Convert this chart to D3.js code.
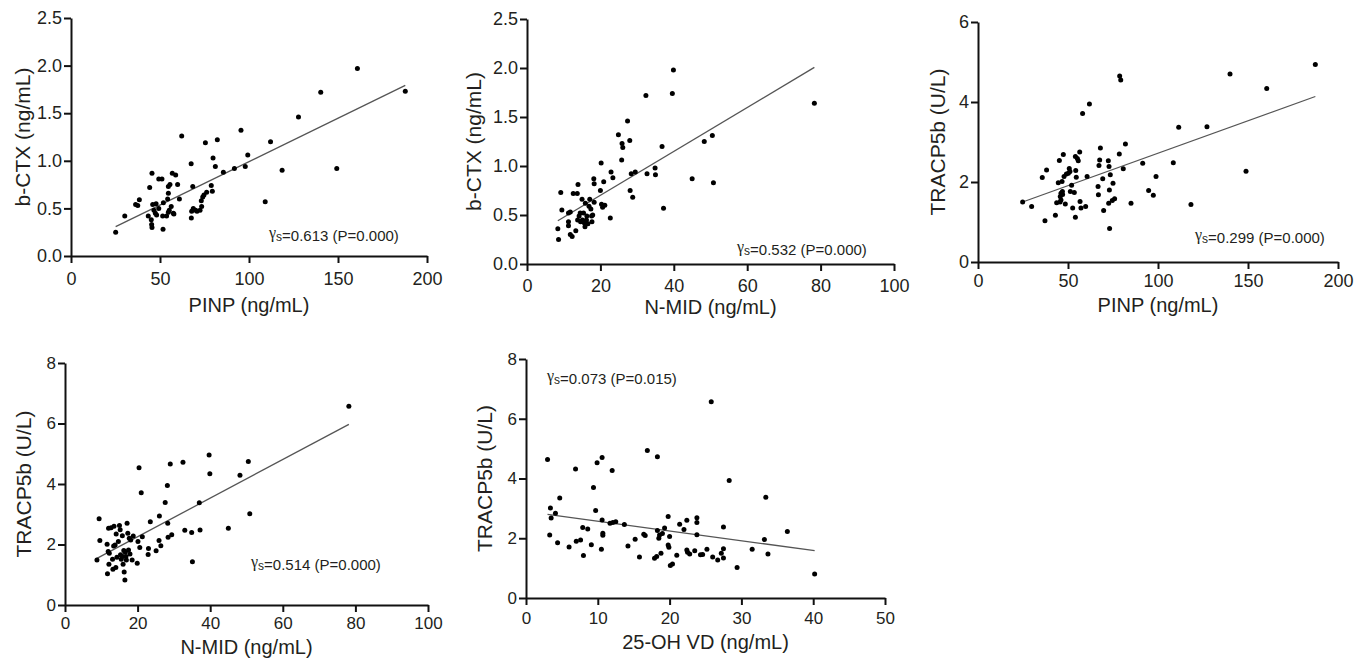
<!DOCTYPE html>
<html>
<head>
<meta charset="utf-8">
<script src="https://cdn.jsdelivr.net/npm/d3@7"></script>
<style>
  body { margin: 0; background: #fff; }
  svg text { font-family: "Liberation Sans", Arial, Helvetica, sans-serif; fill: #231f20; }
</style>
</head>
<body>
<div id="plot"></div>
<script>
// panel 1: PINP vs b-CTX
let p1x = [25.1,30.2,36.3,37.5,38.4,43.4,44.2,45.1,45.3,45.5,45.5,45.9,46.6,47.4,47.8,48.1,49.3,49.3,51.1,51.5,51.7,51.9,53.7,54.3,54.7,54.7,54.7,55.2,55.6,56.3,56.9,57.5,57.8,58.8,59.9,60.9,62.2,67.5,67.6,67.8,68.4,68.7,70.0,70.8,72.5,73.4,73.2,74.0,74.7,75.5,76.2,78.8,79.4,79.8,81.1,82.2,85.6,91.8,95.5,97.9,99.3,109.1,112.1,118.6,127.8,140.3,149.3,160.9,187.8];
let p1y = [0.25,0.42,0.54,0.53,0.59,0.42,0.72,0.38,0.33,0.30,0.87,0.54,0.48,0.45,0.55,0.43,0.50,0.81,0.81,0.42,0.28,0.56,0.42,0.60,0.46,0.66,0.73,0.48,0.75,0.52,0.87,0.45,0.44,0.85,0.75,0.60,1.26,0.97,0.40,0.47,0.73,0.50,0.48,0.47,0.48,0.52,0.58,0.62,0.64,1.19,0.67,0.74,0.68,1.03,0.94,1.22,0.88,0.92,1.32,0.94,1.06,0.57,1.20,0.90,1.46,1.72,0.92,1.97,1.73];

// panel 2: N-MID vs b-CTX
let p2x = [8.6,8.4,9.2,9.5,11.3,11.3,11.3,11.8,12.3,11.8,12.6,13.3,13.7,13.9,13.8,14.2,14.5,14.6,15.0,15.1,15.4,15.6,15.8,15.9,16.2,16.3,16.6,16.9,17.1,17.4,17.6,17.7,17.9,18.2,18.3,18.3,20.0,20.2,20.3,20.6,20.9,21.2,22.7,22.9,23.4,24.9,25.8,25.9,26.1,27.4,28.0,28.1,28.4,28.8,29.5,32.4,32.7,34.9,35.0,36.8,37.2,39.6,39.9,45.0,48.3,50.5,50.8,78.3];
let p2y = [0.25,0.36,0.73,0.55,0.52,0.43,0.39,0.30,0.28,0.53,0.72,0.34,0.72,0.81,0.45,0.49,0.52,0.43,0.66,0.45,0.52,0.42,0.38,0.62,0.45,0.49,0.41,0.59,0.66,0.56,0.49,0.43,0.50,0.87,0.63,0.82,0.75,1.03,0.61,0.58,0.84,0.60,0.47,0.94,0.88,1.32,1.06,1.23,1.19,1.46,1.26,0.75,0.92,0.68,0.94,1.72,0.92,0.98,0.91,1.20,0.57,1.74,1.98,0.87,1.25,1.31,0.83,1.64];

// panel 3: PINP vs TRACP5b
let p3x = [24.8,29.8,35.7,37.2,38.1,43.0,43.7,44.6,45.2,45.6,46.1,45.7,46.1,46.7,46.9,47.0,47.4,47.8,48.5,49.1,50.2,50.7,51.1,51.3,52.0,52.6,53.5,54.1,54.1,54.3,54.6,55.2,55.7,56.5,56.7,57.2,58.1,59.8,60.6,61.9,66.7,66.9,67.2,67.6,68.0,69.3,69.8,72.4,72.6,72.8,73.0,73.1,73.5,74.6,75.0,75.9,78.5,78.7,79.3,80.7,81.9,85.0,91.5,94.8,97.4,98.9,108.5,111.5,118.3,127.2,140.0,148.9,160.4,187.4];
let p3y = [1.50,1.39,2.11,1.03,2.30,1.17,1.48,1.98,2.54,1.50,1.72,1.64,1.55,2.01,1.76,1.69,2.69,2.14,1.45,2.20,2.22,2.34,2.26,1.76,1.92,1.35,1.74,1.12,2.64,2.29,2.12,2.59,2.53,2.75,1.51,1.35,3.71,1.39,2.14,3.95,1.89,1.68,2.41,2.55,2.85,2.08,1.29,2.53,1.47,2.39,1.80,0.84,2.18,1.54,1.97,1.58,2.70,4.65,4.55,2.33,2.95,1.47,2.47,1.79,1.67,2.14,2.48,3.37,1.44,3.38,4.70,2.27,4.34,4.94];

// panel 4: N-MID vs TRACP5b
let p4x = [8.8,9.4,9.6,11.6,11.7,12.0,11.9,12.1,12.2,12.7,13.1,13.2,13.5,13.4,13.8,14.1,14.0,14.3,14.7,15.0,15.2,15.3,15.5,15.8,15.9,16.0,16.2,16.3,16.5,16.6,16.8,16.9,17.1,17.3,17.5,17.7,17.9,18.1,18.5,18.8,19.9,20.1,20.4,20.6,21.0,21.3,22.9,23.0,23.5,25.1,26.0,25.9,26.4,27.6,28.2,28.3,28.4,29.0,29.4,32.5,33.0,34.9,35.1,37.0,37.2,39.7,39.9,45.0,48.2,50.5,50.9,78.2];
let p4y = [1.49,2.85,2.13,2.01,1.03,2.54,1.77,1.35,1.71,2.55,1.51,1.18,2.60,1.95,1.98,2.35,1.24,1.58,2.10,2.63,2.49,1.66,1.51,2.29,1.60,1.35,1.80,1.09,0.83,1.74,1.60,1.49,2.70,2.37,1.82,2.21,1.69,2.15,1.49,2.28,1.38,2.10,4.54,1.90,3.71,2.26,1.67,1.87,2.75,1.79,2.94,2.13,1.96,3.39,3.95,2.70,2.24,4.66,2.32,4.72,2.47,2.40,1.43,3.38,2.48,4.96,4.34,2.54,4.29,4.74,3.02,6.57];

// panel 5: 25-OH VD vs TRACP5b
let p5x = [3.0,3.3,3.4,3.5,4.1,4.4,4.7,6.0,6.9,7.0,7.6,7.9,8.0,8.6,9.1,9.4,9.7,9.9,10.5,10.6,10.6,10.7,10.7,12.0,11.7,12.1,12.5,13.7,14.2,15.2,15.8,16.4,16.6,16.9,17.9,18.2,18.3,18.3,18.5,18.6,18.8,19.0,19.3,19.8,19.8,19.9,20.0,20.1,20.4,21.0,21.4,22.0,22.4,22.4,22.5,22.8,23.5,23.8,23.8,23.8,24.3,24.6,25.2,25.8,26.0,26.7,27.2,27.5,27.5,27.5,28.3,29.4,31.5,33.2,33.4,33.7,36.4,40.2];
let p5y = [4.64,2.11,3.01,2.68,2.84,1.85,3.35,1.71,4.32,1.90,1.94,2.36,1.42,2.31,1.78,3.70,2.93,4.53,1.63,4.70,2.61,2.17,2.10,4.27,2.50,2.53,2.55,2.46,1.74,1.97,1.37,2.13,2.09,4.94,1.33,1.39,4.73,2.26,2.00,2.11,1.50,2.16,2.34,2.73,1.77,1.70,2.06,1.09,1.14,1.43,2.47,2.29,2.60,1.61,1.53,1.47,1.58,2.69,2.53,2.12,1.45,1.46,1.63,6.57,1.37,1.27,1.50,1.65,2.38,1.34,3.93,1.02,1.63,1.96,3.37,1.47,2.23,0.80];

// regression lines: y = a + b*x
let fitA = [0.079, 0.254, 1.098, 0.981, 2.895];
let fitB = [0.00912, 0.02238, 0.01622, 0.0638, -0.0326];

let rsLabel = ['0.613', '0.532', '0.299', '0.514', '0.073'];
let pLabel = ['0.000', '0.000', '0.000', '0.000', '0.015'];

let xTitles = ['PINP (ng/mL)', 'N-MID (ng/mL)', 'PINP (ng/mL)', 'N-MID (ng/mL)', '25-OH VD (ng/mL)'];
let yTitles = ['b-CTX (ng/mL)', 'b-CTX (ng/mL)', 'TRACP5b (U/L)', 'TRACP5b (U/L)', 'TRACP5b (U/L)'];
let xMax = [200, 100, 200, 100, 50], xStep = [50, 20, 50, 20, 10];
let yMax = [2.5, 2.5, 6, 8, 8], yStep = [0.5, 0.5, 2, 2, 2];

let xs = [p1x, p2x, p3x, p4x, p5x];
let ys = [p1y, p2y, p3y, p4y, p5y];

// layout (pixels)
let boxes = [
  {l: 71, r: 427, t: 18, b: 256, fs: 18, pad: 9, ytx: 48, xty: 56, ax: 269, ay: 241},
  {l: 527, r: 894, t: 19, b: 264, fs: 18, pad: 8, ytx: 53, xty: 50, ax: 737, ay: 255},
  {l: 978, r: 1338, t: 22, b: 262, fs: 18, pad: 5, ytx: 40, xty: 50, ax: 1195, ay: 243},
  {l: 65, r: 428, t: 363, b: 605, fs: 17, pad: 5, ytx: 41, xty: 49, ax: 251, ay: 570},
  {l: 526, r: 885, t: 359, b: 598, fs: 17, pad: 7, ytx: 41, xty: 51, ax: 547, ay: 384}
];

let width = 1367, height = 660;
let svg = d3.select('#plot').append('svg').attr('width', width).attr('height', height);

boxes.forEach((bx, i) => {
  let x = d3.scaleLinear().domain([0, xMax[i]]).range([bx.l, bx.r]);
  let y = d3.scaleLinear().domain([0, yMax[i]]).range([bx.b, bx.t]);
  let fmt = yStep[i] < 1 ? d3.format('.1f') : d3.format('d');

  let g = svg.append('g');

  let xa = g.append('g').attr('transform', `translate(0,${bx.b})`)
    .call(d3.axisBottom(x).tickValues(d3.range(0, xMax[i] + 1e-9, xStep[i])).tickSize(7).tickPadding(bx.pad).tickSizeOuter(0));
  let ya = g.append('g').attr('transform', `translate(${bx.l},0)`)
    .call(d3.axisLeft(y).tickValues(d3.range(0, yMax[i] + 1e-9, yStep[i])).tickFormat(fmt).tickSize(7).tickPadding(2).tickSizeOuter(0));
  [xa, ya].forEach(a => {
    a.select('.domain').attr('stroke', '#111').attr('stroke-width', 2);
    a.selectAll('.tick line').attr('stroke', '#111').attr('stroke-width', 2);
    a.selectAll('.tick text').style('font-size', bx.fs + 'px').attr('fill', '#231f20');
  });

  g.append('text').attr('x', (bx.l + bx.r) / 2).attr('y', bx.b + bx.xty)
    .attr('text-anchor', 'middle').style('font-size', '20px').text(xTitles[i]);
  g.append('text').attr('transform', `translate(${bx.l - bx.ytx},${(bx.t + bx.b) / 2}) rotate(-90)`)
    .attr('text-anchor', 'middle').attr('dy', '0.35em').style('font-size', '21px').text(yTitles[i]);

  let x0 = d3.min(xs[i]), x1 = d3.max(xs[i]);
  g.append('line')
    .attr('x1', x(x0)).attr('y1', y(fitA[i] + fitB[i] * x0))
    .attr('x2', x(x1)).attr('y2', y(fitA[i] + fitB[i] * x1))
    .attr('stroke', '#555').attr('stroke-width', 1.3);

  g.selectAll('circle').data(xs[i].map((d, k) => [d, ys[i][k]]))
    .enter().append('circle')
    .attr('cx', d => x(d[0])).attr('cy', d => y(d[1]))
    .attr('r', 2.5).style('fill', '#000');

  let t = g.append('text').attr('x', bx.ax).attr('y', bx.ay).style('font-size', '15px');
  t.append('tspan').text('γ').style('font-family', '"Liberation Serif", "DejaVu Serif", serif').style('font-size', '16px').attr('dy', -3);
  t.append('tspan').text('s').style('font-size', '12px').attr('dy', 3);
  t.append('tspan').text('=' + rsLabel[i] + ' (P=' + pLabel[i] + ')');
});
</script>
</body>
</html>
